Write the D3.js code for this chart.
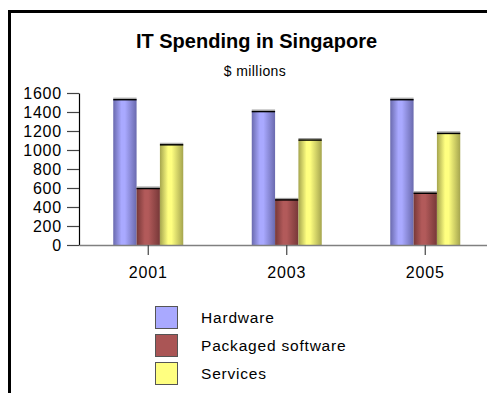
<!DOCTYPE html>
<html>
<head>
<meta charset="utf-8">
<script src="https://cdn.jsdelivr.net/npm/d3@7"></script>
<style>
  html, body { margin: 0; padding: 0; background: #fff; }
  svg { display: block; font-family: "Liberation Sans", Arial, sans-serif; }
</style>
</head>
<body>
<svg id="chart" width="487" height="393"></svg>
<script>
// IT spending in Singapore, $ millions
const years = ["2001", "2003", "2005"];
const seriesNames = ["Hardware", "Packaged software", "Services"];
const hardware = [1535, 1410, 1535];
const packagedSoftware = [600, 480, 550];
const services = [1060, 1110, 1180];
const yTicks = [0, 200, 400, 600, 800, 1000, 1200, 1400, 1600];

const seriesValues = [hardware, packagedSoftware, services];
const palette = [
  { id: "gHw", edge: "#6a6aae", mid: "#a9a9ff", swatch: "#a9a9ff" },
  { id: "gSw", edge: "#773838", mid: "#b25a5a", swatch: "#aa5555" },
  { id: "gSv", edge: "#a5a54e", mid: "#ffff80", swatch: "#ffff80" }
];

const svg = d3.select("#chart");

// cylinder-like shading for the bars
const defs = svg.append("defs");
palette.forEach(p => {
  const g = defs.append("linearGradient").attr("id", p.id)
    .attr("x1", "0%").attr("x2", "100%").attr("y1", "0%").attr("y2", "0%");
  [[0, p.edge], [0.35, p.mid], [0.5, p.mid], [1, p.edge]].forEach(([o, c]) =>
    g.append("stop").attr("offset", o).attr("stop-color", c));
});

// outer frame (left and top edges visible)
svg.append("path")
  .attr("d", "M9.5,400 L9.5,11.5 L500,11.5")
  .attr("fill", "none").attr("stroke", "#000").attr("stroke-width", 3);

const plot = { left: 79, right: 494.5, top: 93, bottom: 245 };

const x = d3.scaleBand().domain(years).range([plot.left, plot.right]).paddingInner(0).paddingOuter(0);
const groupWidth = 70;
const xs = d3.scaleBand().domain(seriesNames).range([0, groupWidth]).padding(0);
const y = d3.scaleLinear().domain([0, 1600]).range([plot.bottom, plot.top]);

// title
svg.append("text").attr("x", 256.5).attr("y", 48).attr("text-anchor", "middle")
  .attr("font-size", 20).attr("font-weight", "bold").text("IT Spending in Singapore");
svg.append("text").attr("x", 255).attr("y", 76).attr("text-anchor", "middle")
  .attr("font-size", 14).attr("letter-spacing", 0.4).text("$ millions");

// bars
const groups = svg.append("g").selectAll("g").data(years).join("g")
  .attr("transform", d => `translate(${x(d) + x.bandwidth() / 2 - groupWidth / 2},0)`);

groups.each(function (yr, i) {
  const g = d3.select(this);
  seriesNames.forEach((s, k) => {
    const v = seriesValues[k][i];
    g.append("rect")
      .attr("x", xs(s)).attr("width", xs.bandwidth())
      .attr("y", y(v)).attr("height", y(0) - y(v))
      .attr("fill", `url(#${palette[k].id})`);
    g.append("line")
      .attr("x1", xs(s)).attr("x2", xs(s) + xs.bandwidth())
      .attr("y1", y(v) - 1).attr("y2", y(v) - 1)
      .attr("stroke", "#999").attr("stroke-width", 1);
    g.append("line")
      .attr("x1", xs(s)).attr("x2", xs(s) + xs.bandwidth())
      .attr("y1", y(v) + 0.5).attr("y2", y(v) + 0.5)
      .attr("stroke", "#000").attr("stroke-width", 1.5);
  });
});

// y axis
const yAxis = svg.append("g").attr("transform", `translate(${plot.left},0)`)
  .call(d3.axisLeft(y).tickValues(yTicks).tickFormat(d3.format("d"))
    .tickSize(12).tickPadding(5).tickSizeOuter(0));
yAxis.select(".domain").attr("stroke", "#000").attr("stroke-width", 1.2);
yAxis.selectAll(".tick line").attr("stroke", "#444").attr("stroke-width", 1.2);
yAxis.selectAll(".tick text").attr("font-size", 16).attr("fill", "#000")
  .attr("font-family", "Liberation Sans, Arial, sans-serif").attr("letter-spacing", 0.8);

// x axis
const xAxis = svg.append("g").attr("transform", `translate(0,${plot.bottom})`)
  .call(d3.axisBottom(x).tickSize(10).tickPadding(12).tickSizeOuter(0));
xAxis.select(".domain").attr("stroke", "#808080").attr("stroke-width", 1.5);
xAxis.selectAll(".tick line").attr("stroke", "#444").attr("stroke-width", 1.2);
xAxis.selectAll(".tick text").attr("font-size", 16).attr("fill", "#000")
  .attr("font-family", "Liberation Sans, Arial, sans-serif").attr("letter-spacing", 0.8);

// legend
const legend = svg.append("g").selectAll("g").data(seriesNames).join("g")
  .attr("transform", (d, i) => `translate(155,${306 + i * 28})`);
legend.append("rect").attr("x", 0.5).attr("y", 0.5).attr("width", 22).attr("height", 22)
  .attr("fill", (d, i) => palette[i].swatch).attr("stroke", "#555").attr("stroke-width", 1);
legend.append("text").attr("x", 46).attr("y", 16.5)
  .attr("font-size", 15.5).attr("letter-spacing", 0.8).text(d => d);
</script>
</body>
</html>
